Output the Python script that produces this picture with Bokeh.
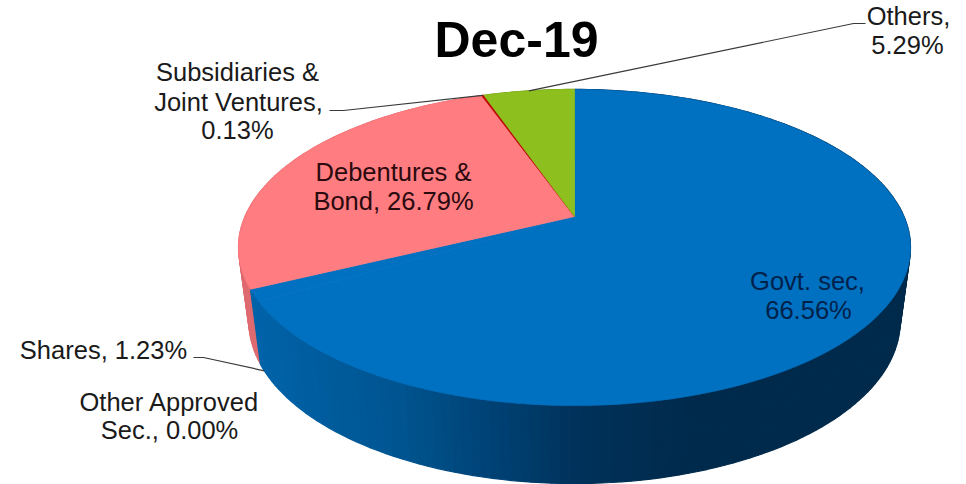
import numpy as np
from bokeh.plotting import figure
from bokeh.embed import file_html
from bokeh.resources import INLINE
from bokeh.core.properties import value

# ---- data ----
title = "Dec-19"
categories = ["Govt. sec", "Other Approved Sec.", "Shares", "Debentures & Bond",
              "Subsidiaries & Joint Ventures", "Others"]
shares_pct = [66.56, 0.00, 1.23, 26.79, 0.13, 5.29]

# ---- style ----
top_colors = ["#0070C0", "#0070C0", "#0070C0", "#FF7C80", "#C00000", "#8DC01E"]
side_colors = [None, None, None, "#DE6A70", "#900000", "#6A9016"]
grad_x = [250, 400, 500, 580, 700, 910]
grad_r = [0, 0, 0, 0, 0, 0]
grad_g = [100, 85, 65, 50, 42, 42]
grad_b = [170, 145, 115, 90, 75, 75]
TXT = "#1a1a1a"

# projection of the tilted disc
CX, APEX_Y = 574.0, 216.0
K, A, B = 0.196, 152.0, 329.5
TOP_CY, TOP_RY = 247.0, 158.0
BOT_CY, BOT_RY = 321.0, 162.0
BOT_S = 0.969


def top_pt(pct):
    t = np.asarray(pct) * 3.6 * np.pi / 180
    u, v = np.sin(t), np.cos(t)
    d = 1 + K * v
    return CX + B * u / d, APEX_Y - A * v / d


def bot_pt(pct):
    x, y = top_pt(pct)
    return CX + BOT_S * (x - CX), BOT_CY + BOT_RY / TOP_RY * (y - TOP_CY)


def blue_side(x):
    r = np.interp(x, grad_x, grad_r)
    g = np.interp(x, grad_x, grad_g)
    b = np.interp(x, grad_x, grad_b)
    return "#%02x%02x%02x" % (int(r), int(g), int(b))


edges = np.concatenate([[0], np.cumsum(shares_pct)])

p = figure(width=966, height=484, x_range=(0, 966), y_range=(484, 0),
           output_backend="svg", toolbar_location=None,
           min_border=0, outline_line_color=None, background_fill_color="white")
p.axis.visible = False
p.grid.visible = False

# side wall strips, painted back to front
strips = []
for i, (a, b_) in enumerate(zip(edges[:-1], edges[1:])):
    if b_ <= a:
        continue
    n = max(2, int((b_ - a) / 0.4) + 1)
    ts = np.linspace(a, b_, n)
    for t0, t1 in zip(ts[:-1], ts[1:]):
        x0, y0 = top_pt(t0)
        x1, y1 = top_pt(t1)
        x2, y2 = bot_pt(t1)
        x3, y3 = bot_pt(t0)
        c = side_colors[i] or blue_side((x0 + x1 + x2 + x3) / 4)
        strips.append(((y0 + y1) / 2, [x0, x1, x2, x3], [y0, y1, y2, y3], c))
strips.sort(key=lambda s: s[0])
p.patches([s[1] for s in strips], [s[2] for s in strips],
          fill_color=[s[3] for s in strips], line_color=[s[3] for s in strips], line_width=1.2)

# top face
for i, (a, b_) in enumerate(zip(edges[:-1], edges[1:])):
    if b_ <= a:
        continue
    ts = np.linspace(a, b_, max(2, int((b_ - a) * 3) + 2))
    xs, ys = top_pt(ts)
    p.patch(np.r_[CX, xs], np.r_[APEX_Y, ys], fill_color=top_colors[i],
            line_color=top_colors[i], line_width=0.7)

# leader lines: one end sits on the middle of the slice
lead = "#3a3a3a"
mid = (edges[:-1] + edges[1:]) / 2
sx, sy = top_pt(mid[4])
ox, oy = top_pt(mid[5])
hx, hy = bot_pt(mid[2])
p.line([329, 343, sx], [110, 110, sy], line_color=lead, line_width=1.2)
p.line([ox, 853, 865], [oy, 23, 23], line_color=lead, line_width=1.2)
p.line([193, 203, hx], [357, 357, hy], line_color=lead, line_width=1.2)

# labels
labels = [
    ("Others,", 908, 15, TXT),
    (f"{shares_pct[5]:.2f}%", 907, 44, TXT),
    ("Subsidiaries &", 237, 71, TXT),
    ("Joint Ventures,", 238, 101, TXT),
    (f"{shares_pct[4]:.2f}%", 237, 129, TXT),
    ("Debentures &", 393, 171, "#2a0a0e"),
    (f"Bond, {shares_pct[3]:.2f}%", 393, 200, "#2a0a0e"),
    ("Govt. sec,", 807, 280, "#00224a"),
    (f"{shares_pct[0]:.2f}%", 808, 309, "#00224a"),
    (f"Shares, {shares_pct[2]:.2f}%", 103, 349, TXT),
    ("Other Approved", 169, 401, TXT),
    (f"Sec., {shares_pct[1]:.2f}%", 169, 429, TXT),
]
p.text([l[1] for l in labels], [l[2] for l in labels], text=[l[0] for l in labels],
       text_color=[l[3] for l in labels], text_font=value("Liberation Sans"),
       text_font_size="25.5px", text_align="center", text_baseline="middle")
p.text([516], [39], text=[title], text_color="#000000", text_font=value("Liberation Sans"),
       text_font_style="bold", text_font_size="50px", text_align="center", text_baseline="middle")

open("out.html", "w").write(file_html(p, INLINE))
